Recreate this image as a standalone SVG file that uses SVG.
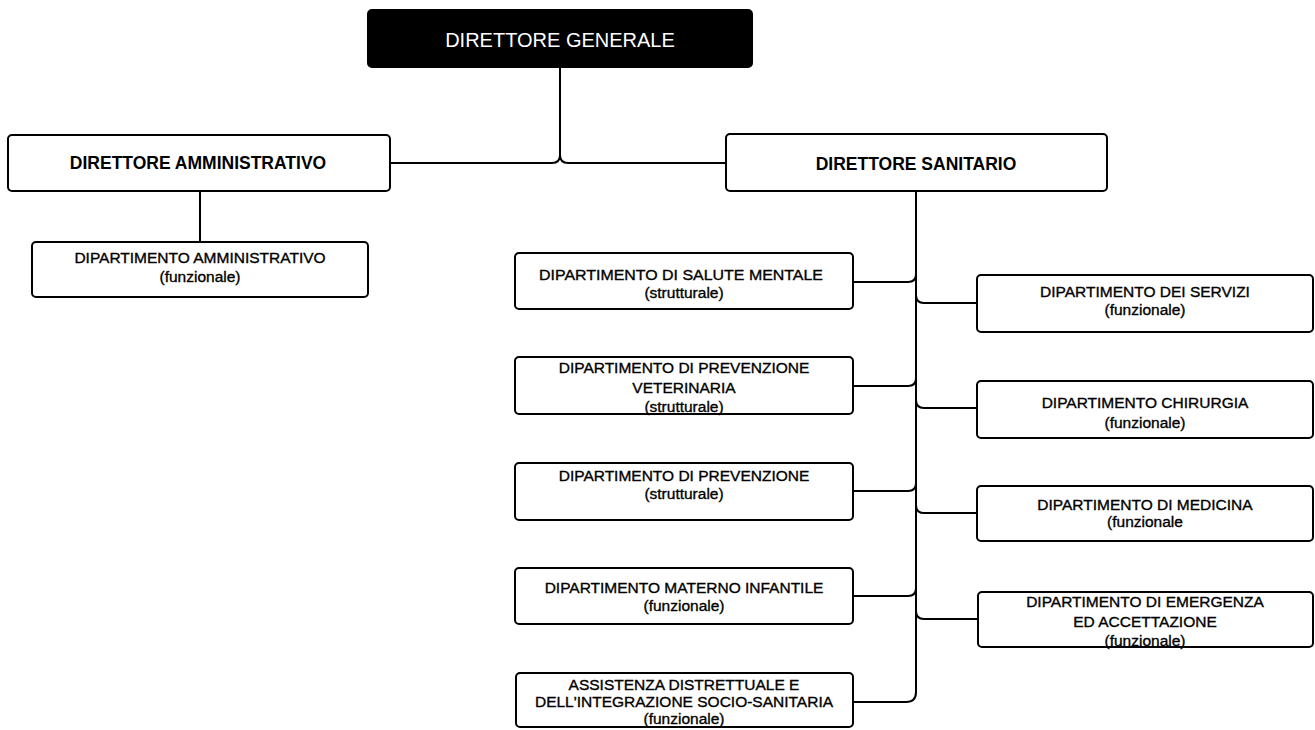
<svg xmlns="http://www.w3.org/2000/svg" width="1315" height="730" viewBox="0 0 1315 730">
  <style>
    .box { fill: #ffffff; stroke: #000000; stroke-width: 2; }
    .head { fill: #000000; stroke: #000000; stroke-width: 2; }
    .link { fill: none; stroke: #000000; stroke-width: 2; }
    text { font-family: "Liberation Sans", Arial, sans-serif; text-anchor: middle; fill: #000000; }
    .t-head { font-size: 20px; fill: #ffffff; }
    .t-dir { font-size: 17.5px; font-weight: bold; }
    .t-dep { font-size: 15.5px; stroke: #000000; stroke-width: 0.35; }
  </style>
  <rect width="1315" height="730" fill="#ffffff"/>

  <!-- connectors -->
  <g id="connectors">
    <!-- general director to the two directors -->
    <path class="link" d="M560 67 V155 Q560 163 552 163 H390"/>
    <path class="link" d="M560 155 Q560 163 568 163 H726"/>
    <!-- administrative director to its department -->
    <path class="link" d="M200 191 V242"/>
    <!-- health director trunk -->
    <path class="link" d="M916 191 V692 Q916 702 906 702 H853"/>
    <!-- left branches -->
    <path class="link" d="M853 282 H908 Q916 282 916 274"/>
    <path class="link" d="M853 386 H908 Q916 386 916 378"/>
    <path class="link" d="M853 491 H908 Q916 491 916 483"/>
    <path class="link" d="M853 596 H908 Q916 596 916 588"/>
    <!-- right branches -->
    <path class="link" d="M916 295 Q916 303 924 303 H977"/>
    <path class="link" d="M916 400 Q916 408 924 408 H977"/>
    <path class="link" d="M916 505 Q916 513 924 513 H977"/>
    <path class="link" d="M916 611 Q916 619 924 619 H977"/>
  </g>

  <g id="direttore-generale">
    <rect class="head" x="368" y="10" width="384" height="57" rx="4"/>
    <text class="t-head" x="560" y="47">DIRETTORE GENERALE</text>
  </g>

  <g id="direttore-amministrativo">
    <rect class="box" x="8" y="135" width="382" height="56" rx="4"/>
    <text class="t-dir" x="198" y="169">DIRETTORE AMMINISTRATIVO</text>
  </g>

  <g id="direttore-sanitario">
    <rect class="box" x="726" y="134" width="381" height="57" rx="4"/>
    <text class="t-dir" x="916" y="170">DIRETTORE SANITARIO</text>
  </g>

  <g id="dip-amministrativo">
    <rect class="box" x="32" y="242" width="336" height="55" rx="4"/>
    <text class="t-dep" x="200" y="263">DIPARTIMENTO AMMINISTRATIVO</text>
    <text class="t-dep" x="200" y="282">(funzionale)</text>
  </g>

  <g id="dip-salute-mentale">
    <rect class="box" x="515" y="253" width="338" height="56" rx="4"/>
    <text class="t-dep" x="681" y="280" textLength="284" lengthAdjust="spacingAndGlyphs">DIPARTIMENTO DI SALUTE MENTALE</text>
    <text class="t-dep" x="684" y="298">(strutturale)</text>
  </g>

  <g id="dip-prevenzione-veterinaria">
    <rect class="box" x="515" y="357" width="338" height="57" rx="4"/>
    <text class="t-dep" x="684" y="373">DIPARTIMENTO DI PREVENZIONE</text>
    <text class="t-dep" x="684" y="393">VETERINARIA</text>
    <text class="t-dep" x="684" y="412">(strutturale)</text>
  </g>

  <g id="dip-prevenzione">
    <rect class="box" x="515" y="463" width="338" height="57" rx="4"/>
    <text class="t-dep" x="684" y="481">DIPARTIMENTO DI PREVENZIONE</text>
    <text class="t-dep" x="684" y="499">(strutturale)</text>
  </g>

  <g id="dip-materno-infantile">
    <rect class="box" x="515" y="568" width="338" height="56" rx="4"/>
    <text class="t-dep" x="684" y="593">DIPARTIMENTO MATERNO INFANTILE</text>
    <text class="t-dep" x="684" y="611">(funzionale)</text>
  </g>

  <g id="assistenza-distrettuale">
    <rect class="box" x="516" y="673" width="337" height="54" rx="4"/>
    <text class="t-dep" x="684" y="690">ASSISTENZA DISTRETTUALE E</text>
    <text class="t-dep" x="684" y="707">DELL'INTEGRAZIONE SOCIO-SANITARIA</text>
    <text class="t-dep" x="684" y="724">(funzionale)</text>
  </g>

  <g id="dip-servizi">
    <rect class="box" x="977" y="275" width="336" height="57" rx="4"/>
    <text class="t-dep" x="1145" y="297">DIPARTIMENTO DEI SERVIZI</text>
    <text class="t-dep" x="1145" y="315">(funzionale)</text>
  </g>

  <g id="dip-chirurgia">
    <rect class="box" x="977" y="381" width="336" height="57" rx="4"/>
    <text class="t-dep" x="1145" y="408">DIPARTIMENTO CHIRURGIA</text>
    <text class="t-dep" x="1145" y="428">(funzionale)</text>
  </g>

  <g id="dip-medicina">
    <rect class="box" x="977" y="486" width="336" height="55" rx="4"/>
    <text class="t-dep" x="1145" y="510">DIPARTIMENTO DI MEDICINA</text>
    <text class="t-dep" x="1145" y="527">(funzionale</text>
  </g>

  <g id="dip-emergenza">
    <rect class="box" x="978" y="592" width="335" height="55" rx="4"/>
    <text class="t-dep" x="1145" y="607">DIPARTIMENTO DI EMERGENZA</text>
    <text class="t-dep" x="1145" y="627">ED ACCETTAZIONE</text>
    <text class="t-dep" x="1145" y="646">(funzionale)</text>
  </g>
</svg>
